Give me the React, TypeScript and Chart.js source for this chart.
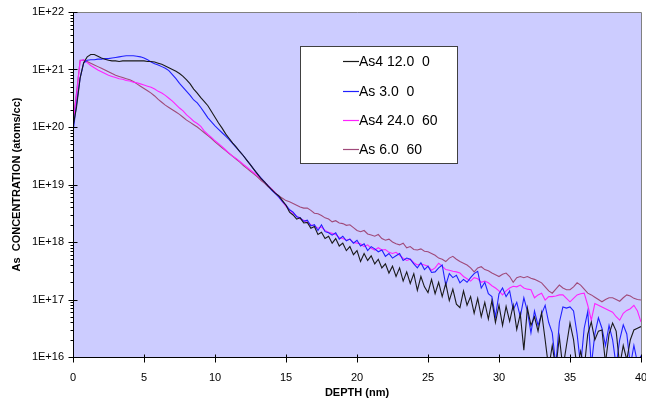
import React, { useEffect, useRef } from 'react';
import { Chart, registerables } from 'chart.js';

Chart.register(...registerables);

// Depth grid (nm)
const depth = [
  0, 0.25, 0.5, 0.75, 1, 1.25, 1.5, 1.75, 2, 2.25,
  2.5, 2.75, 3, 3.25, 3.5, 3.75, 4, 4.25, 4.5, 4.75,
  5, 5.25, 5.5, 5.75, 6, 6.25, 6.5, 6.75, 7, 7.25,
  7.5, 7.75, 8, 8.25, 8.5, 8.75, 9, 9.25, 9.5, 9.75,
  10, 10.25, 10.5, 10.75, 11, 11.25, 11.5, 11.75, 12, 12.25,
  12.5, 12.75, 13, 13.25, 13.5, 13.75, 14, 14.25, 14.5, 14.75,
  15, 15.25, 15.5, 15.75, 16, 16.25, 16.5, 16.75, 17, 17.25,
  17.5, 17.75, 18, 18.25, 18.5, 18.75, 19, 19.25, 19.5, 19.75,
  20, 20.25, 20.5, 20.75, 21, 21.25, 21.5, 21.75, 22, 22.25,
  22.5, 22.75, 23, 23.25, 23.5, 23.75, 24, 24.25, 24.5, 24.75,
  25, 25.25, 25.5, 25.75, 26, 26.25, 26.5, 26.75, 27, 27.25,
  27.5, 27.75, 28, 28.25, 28.5, 28.75, 29, 29.25, 29.5, 29.75,
  30, 30.25, 30.5, 30.75, 31, 31.25, 31.5, 31.75, 32, 32.25,
  32.5, 32.75, 33, 33.25, 33.5, 33.75, 34, 34.25, 34.5, 34.75,
  35, 35.25, 35.5, 35.75, 36, 36.25, 36.5, 36.75, 37, 37.25,
  37.5, 37.75, 38, 38.25, 38.5, 38.75, 39, 39.25, 39.5, 39.75,
  40,
];

// log10 of As concentration (atoms/cc)
const logAs4_12_0 = [
  20.00, 20.35, 20.85, 21.12, 21.22, 21.26, 21.26, 21.23, 21.20, 21.18,
  21.16, 21.15, 21.15, 21.14, 21.15, 21.15, 21.15, 21.15, 21.15, 21.15,
  21.15, 21.14, 21.14, 21.13, 21.11, 21.09, 21.06, 21.03, 21.00, 20.97,
  20.93, 20.88, 20.82, 20.75, 20.66, 20.59, 20.51, 20.44, 20.37, 20.27,
  20.17, 20.07, 19.98, 19.88, 19.80, 19.72, 19.65, 19.57, 19.50, 19.42,
  19.34, 19.26, 19.18, 19.10, 19.04, 18.97, 18.91, 18.85, 18.80, 18.72,
  18.64, 18.52, 18.47, 18.40, 18.42, 18.33, 18.34, 18.24, 18.27, 18.13,
  18.17, 18.06, 18.10, 17.98, 18.06, 17.93, 17.98, 17.85, 17.92, 17.78,
  17.85, 17.66, 17.80, 17.68, 17.76, 17.62, 17.70, 17.55, 17.62, 17.46,
  17.58, 17.40, 17.55, 17.32, 17.48, 17.28, 17.45, 17.16, 17.40, 17.22,
  17.12, 17.35, 17.10, 17.30, 17.05, 17.28, 16.98, 17.18, 16.92, 16.86,
  17.15, 16.90, 17.05, 16.76, 17.02, 16.70, 16.95, 16.66, 16.98, 16.60,
  16.90, 16.55, 16.88, 16.62, 16.90, 16.48, 16.75, 16.12, 16.85, 16.55,
  16.70, 16.45, 16.77, 16.30, 15.80, 16.20, 15.80, 16.35, 15.80, 16.20,
  16.59, 16.30, 15.80, 16.10, 15.80, 16.40, 16.61, 16.30, 16.45, 16.47,
  15.90, 16.40, 16.59, 16.45, 15.85, 16.20, 15.95, 16.30, 16.47, 16.50,
  16.53,
];

const logAs_3_0 = [
  19.90, 20.40, 20.85, 21.11, 21.16, 21.17, 21.17, 21.18, 21.18, 21.19,
  21.19, 21.20, 21.21, 21.22, 21.23, 21.24, 21.24, 21.24, 21.23, 21.22,
  21.20, 21.17, 21.13, 21.10, 21.08, 21.05, 21.02, 20.98, 20.91, 20.84,
  20.76, 20.69, 20.62, 20.55, 20.47, 20.42, 20.34, 20.25, 20.16, 20.09,
  20.02, 19.96, 19.90, 19.84, 19.78, 19.71, 19.64, 19.57, 19.50, 19.42,
  19.34, 19.26, 19.18, 19.11, 19.04, 18.97, 18.90, 18.84, 18.78, 18.70,
  18.64, 18.56, 18.52, 18.44, 18.42, 18.36, 18.38, 18.28, 18.30, 18.20,
  18.30, 18.18, 18.16, 18.12, 18.16, 18.05, 18.10, 18.02, 18.05, 17.98,
  18.03, 17.93, 17.97, 17.85, 17.92, 17.88, 17.83, 17.86, 17.75, 17.80,
  17.72, 17.76, 17.80, 17.68, 17.72, 17.70, 17.62, 17.55, 17.64, 17.52,
  17.58, 17.47, 17.48, 17.55, 17.60, 17.25, 17.45, 17.38, 17.42, 17.29,
  17.35, 17.30, 17.38, 17.45, 17.49, 17.20, 17.30, 17.10, 17.05, 16.70,
  17.10, 17.20, 17.05, 17.15, 16.82, 16.95, 16.70, 17.03, 16.80, 16.42,
  16.80, 16.55, 16.75, 16.90, 16.60, 16.42, 15.85, 16.60, 16.87, 16.85,
  16.87, 16.80, 16.40, 15.85, 16.50, 16.79, 15.85, 16.40, 16.68, 16.50,
  16.20, 16.55, 16.30, 15.85, 16.30, 16.56, 16.40, 15.85, 16.20, 15.90,
  16.02,
];

const logAs4_24_60 = [
  20.05, 20.55, 21.15, 21.17, 21.12, 21.07, 21.03, 20.99, 20.96, 20.93,
  20.90, 20.88, 20.86, 20.84, 20.83, 20.81, 20.80, 20.78, 20.77, 20.75,
  20.73, 20.71, 20.69, 20.66, 20.62, 20.59, 20.55, 20.50, 20.45, 20.39,
  20.33, 20.28, 20.21, 20.16, 20.10, 20.06, 20.01, 19.93, 19.87, 19.82,
  19.76, 19.71, 19.66, 19.60, 19.54, 19.49, 19.45, 19.40, 19.35, 19.30,
  19.25, 19.20, 19.15, 19.10, 19.04, 18.98, 18.92, 18.86, 18.78, 18.70,
  18.62, 18.56, 18.50, 18.45, 18.40, 18.38, 18.34, 18.30, 18.28, 18.24,
  18.26, 18.20, 18.17, 18.15, 18.13, 18.08, 18.06, 18.03, 18.05, 17.99,
  17.98, 17.97, 17.92, 17.95, 17.89, 17.86, 17.90, 17.86, 17.87, 17.82,
  17.80, 17.82, 17.77, 17.72, 17.68, 17.70, 17.64, 17.60, 17.62, 17.60,
  17.58, 17.51, 17.55, 17.63, 17.58, 17.52, 17.51, 17.49, 17.48, 17.46,
  17.40, 17.36, 17.32, 17.38, 17.36, 17.30, 17.32, 17.29, 17.24, 17.20,
  17.15, 17.08, 17.15, 17.20, 17.23, 17.22, 17.25, 17.20, 17.18, 17.17,
  17.03, 17.08, 17.11, 16.99, 17.05, 17.05, 17.06, 17.08, 17.08, 17.02,
  16.96, 17.02, 17.08, 17.10, 17.11, 16.90, 16.64, 16.93, 16.90, 16.87,
  16.84, 16.81, 16.78, 16.70, 16.64, 16.76, 16.81, 16.84, 16.90, 16.80,
  16.61,
];

const logAs_6_60 = [
  20.10, 20.60, 21.16, 21.16, 21.14, 21.11, 21.08, 21.05, 21.02, 20.99,
  20.96, 20.93, 20.90, 20.88, 20.86, 20.84, 20.82, 20.79, 20.75, 20.71,
  20.67, 20.63, 20.59, 20.54, 20.48, 20.43, 20.38, 20.34, 20.30, 20.26,
  20.22, 20.17, 20.12, 20.08, 20.04, 20.00, 19.95, 19.90, 19.85, 19.80,
  19.74, 19.69, 19.64, 19.59, 19.54, 19.49, 19.44, 19.39, 19.33, 19.28,
  19.23, 19.18, 19.13, 19.07, 19.02, 18.96, 18.91, 18.85, 18.80, 18.76,
  18.72, 18.70, 18.67, 18.64, 18.61, 18.59, 18.59, 18.55, 18.50, 18.49,
  18.46, 18.42, 18.40, 18.35, 18.37, 18.33, 18.32, 18.29, 18.30, 18.25,
  18.20, 18.18, 18.20, 18.14, 18.12, 18.10, 18.13, 18.06, 18.03, 18.05,
  18.00, 17.97, 17.95, 17.98, 17.90, 17.92, 17.87, 17.86, 17.88, 17.84,
  17.83, 17.80, 17.77, 17.72, 17.70, 17.66, 17.72, 17.75, 17.70, 17.66,
  17.63, 17.60, 17.55, 17.48, 17.55, 17.57, 17.52, 17.50, 17.46, 17.43,
  17.40, 17.44, 17.46, 17.40, 17.30, 17.38, 17.40, 17.38, 17.40, 17.37,
  17.35, 17.32, 17.29, 17.22, 17.15, 17.11, 17.18, 17.25, 17.20, 17.17,
  17.17, 17.22, 17.29, 17.25, 17.18, 17.11, 17.08, 17.04, 17.00, 16.96,
  17.00, 17.03, 17.03, 17.00, 16.97, 17.03, 17.08, 17.06, 17.02, 17.00,
  16.99,
];

const seriesNames = ['As4 12.0  0', 'As 3.0  0', 'As4 24.0  60', 'As 6.0  60'];
const seriesColors = ['#1a1a1a', '#2020ff', '#ff22ff', '#a04a7a'];
const seriesLogs = [logAs4_12_0, logAs_3_0, logAs4_24_60, logAs_6_60];

const xTicks = [0, 5, 10, 15, 20, 25, 30, 35, 40];
const yTickExponents = [16, 17, 18, 19, 20, 21, 22];

const FONT = "'Liberation Sans', Arial, Helvetica, sans-serif";

const decorPlugin = {
  id: 'decor',
  beforeDraw(chart: any) {
    const { ctx, chartArea: a } = chart;
    ctx.save();
    ctx.fillStyle = '#ffffff';
    ctx.fillRect(0, 0, chart.width, chart.height);
    ctx.fillStyle = '#ccccff';
    ctx.fillRect(a.left, a.top, a.right - a.left, a.bottom - a.top);
    ctx.restore();
  },
  afterDatasetsDraw(chart: any) {
    const { ctx, chartArea: a } = chart;
    const xs = chart.scales.x;
    const ys = chart.scales.y;
    ctx.save();
    ctx.strokeStyle = '#808080';
    ctx.lineWidth = 1;
    ctx.beginPath();
    ctx.moveTo(a.left, Math.round(a.top) + 0.5);
    ctx.lineTo(Math.round(a.right) + 0.5, Math.round(a.top) + 0.5);
    ctx.lineTo(Math.round(a.right) + 0.5, a.bottom);
    ctx.stroke();
    ctx.strokeStyle = '#000000';
    ctx.beginPath();
    const lx = Math.round(a.left) + 0.5;
    const by = Math.round(a.bottom) + 0.5;
    ctx.moveTo(lx, a.top);
    ctx.lineTo(lx, by);
    ctx.lineTo(a.right + 1, by);
    const lastE = yTickExponents[yTickExponents.length - 1];
    for (let e = yTickExponents[0]; e <= lastE; e++) {
      const yp = Math.round(ys.getPixelForValue(Math.pow(10, e))) + 0.5;
      ctx.moveTo(lx - 5, yp);
      ctx.lineTo(lx + 4, yp);
      if (e < lastE) {
        for (let m = 2; m <= 9; m++) {
          const ym = Math.round(ys.getPixelForValue(m * Math.pow(10, e))) + 0.5;
          ctx.moveTo(lx - 3, ym);
          ctx.lineTo(lx, ym);
        }
      }
    }
    for (const t of xTicks) {
      const xp = Math.round(xs.getPixelForValue(t)) + 0.5;
      ctx.moveTo(xp, by - 3);
      ctx.lineTo(xp, by + 5);
    }
    ctx.stroke();

    // legend
    const bx = 300.5, byy = 46.5, bw = 157, bh = 117;
    ctx.fillStyle = '#ffffff';
    ctx.fillRect(bx, byy, bw, bh);
    ctx.strokeStyle = '#404040';
    ctx.lineWidth = 1;
    ctx.strokeRect(bx, byy, bw, bh);
    ctx.font = `14px ${FONT}`;
    ctx.textBaseline = 'middle';
    ctx.textAlign = 'left';
    const rows = [61, 90.5, 120, 148.5];
    chart.data.datasets.forEach((ds: any, i: number) => {
      const y = Math.round(rows[i]) + 0.5;
      ctx.strokeStyle = seriesColors[i];
      ctx.lineWidth = 1.2;
      ctx.beginPath();
      ctx.moveTo(343, y);
      ctx.lineTo(359, y);
      ctx.stroke();
      ctx.fillStyle = '#000000';
      ctx.fillText(ds.label, 359, y + 0.5);
    });
    ctx.restore();
  },
};

export default function App() {
  const ref = useRef<HTMLCanvasElement | null>(null);
  useEffect(() => {
    if (!ref.current) return;
    const datasets = seriesNames.map((name, i) => ({
      label: name,
      data: depth.map((d, j) => ({ x: d, y: Math.pow(10, seriesLogs[i][j]) })),
      borderColor: seriesColors[i],
      backgroundColor: seriesColors[i],
      borderWidth: 1.1,
      pointRadius: 0,
      tension: 0,
      fill: false,
      order: i,
    }));
    const chart = new Chart(ref.current, {
      type: 'line',
      data: { datasets },
      options: {
        animation: false,
        responsive: false,
        devicePixelRatio: 1,
        layout: { padding: { left: 0, right: 5, top: 12, bottom: 0 } },
        plugins: { legend: { display: false }, tooltip: { enabled: false } },
        scales: {
          x: {
            type: 'linear',
            min: 0,
            max: 40,
            afterBuildTicks: (s: any) => {
              s.ticks = xTicks.map((v) => ({ value: v }));
            },
            afterFit: (s: any) => {
              s.height = 46;
              s.paddingLeft = 0;
              s.paddingRight = 0;
            },
            grid: { display: false, drawTicks: false },
            border: { display: false },
            ticks: {
              color: '#000',
              font: { family: FONT, size: 11 },
              padding: 14,
              maxRotation: 0,
              autoSkip: false,
            },
            title: {
              display: true,
              text: 'DEPTH (nm)',
              color: '#000',
              font: { family: FONT, size: 11, weight: 'bold' },
              padding: { top: 0, bottom: 3 },
            },
          },
          y: {
            type: 'logarithmic',
            min: 1e16,
            max: 1e22,
            afterBuildTicks: (s: any) => {
              s.ticks = yTickExponents.map((e) => ({ value: Math.pow(10, e) }));
            },
            afterFit: (s: any) => {
              s.width = 73;
              s.paddingTop = 0;
              s.paddingBottom = 0;
            },
            grid: { display: false, drawTicks: false },
            border: { display: false },
            ticks: {
              color: '#000',
              font: { family: FONT, size: 11 },
              padding: 9,
              autoSkip: false,
              callback: (v: any) => {
                const e = Math.round(Math.log10(v));
                return '1E+' + e;
              },
            },
            title: {
              display: true,
              text: 'As  CONCENTRATION (atoms/cc)',
              color: '#000',
              font: { family: FONT, size: 11, weight: 'bold' },
              padding: { top: 10, bottom: 0 },
            },
          },
        },
      },
      plugins: [decorPlugin],
    });
    return () => chart.destroy();
  }, []);
  return (
    <div style={{ position: 'fixed', left: 0, top: 0, width: 646, height: 403 }}>
      <canvas ref={ref} width={646} height={403} />
    </div>
  );
}
